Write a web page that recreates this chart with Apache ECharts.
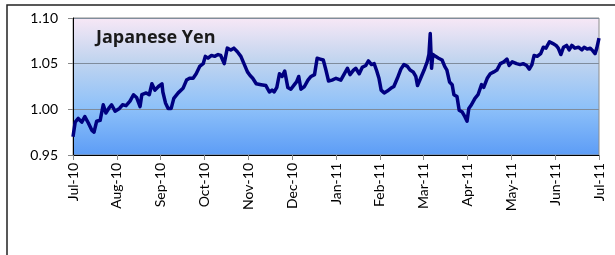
<!DOCTYPE html>
<html>
<head>
<meta charset="utf-8">
<script src="https://cdn.jsdelivr.net/npm/echarts@6/dist/echarts.min.js"></script>
<style>
  html, body { margin: 0; padding: 0; background: #fff; }
  #chart { width: 615px; height: 255px; }
</style>
</head>
<body>
<div id="chart"></div>
<script>
// month tick labels (one per month, Jul-10 .. Jul-11)
const months = ['Jul-10', 'Aug-10', 'Sep-10', 'Oct-10', 'Nov-10', 'Dec-10', 'Jan-11',
  'Feb-11', 'Mar-11', 'Apr-11', 'May-11', 'Jun-11', 'Jul-11'];

// position in months since Jul-10
const t = [0.00, 0.05, 0.12, 0.20, 0.27, 0.35, 0.43, 0.48, 0.54, 0.62, 0.69, 0.75, 0.83, 0.88, 0.96,
  1.06, 1.13, 1.21, 1.30, 1.38, 1.45, 1.53, 1.57, 1.67, 1.74, 1.80, 1.87, 1.95, 2.03, 2.05,
  2.11, 2.17, 2.24, 2.30, 2.40, 2.51, 2.59, 2.66, 2.74, 2.81, 2.89, 2.97, 3.02, 3.08, 3.16,
  3.23, 3.31, 3.37, 3.45, 3.52, 3.60, 3.67, 3.75, 3.83, 3.90, 3.98, 4.04, 4.10, 4.18, 4.29,
  4.40, 4.48, 4.54, 4.59, 4.65, 4.71, 4.77, 4.83, 4.90, 4.97, 5.05, 5.10, 5.15, 5.20, 5.28,
  5.36, 5.43, 5.51, 5.57, 5.64, 5.71, 5.77, 5.83, 5.91, 6.00, 6.03, 6.11, 6.18, 6.26, 6.32,
  6.40, 6.45, 6.53, 6.60, 6.68, 6.74, 6.81, 6.87, 6.93, 6.98, 7.03, 7.10, 7.17, 7.25, 7.32,
  7.40, 7.48, 7.55, 7.63, 7.69, 7.76, 7.82, 7.86, 7.93, 8.01, 8.05, 8.08, 8.12, 8.15, 8.18,
  8.21, 8.27, 8.34, 8.42, 8.48, 8.53, 8.59, 8.65, 8.69, 8.76, 8.81, 8.88, 8.94, 8.99, 9.03,
  9.09, 9.17, 9.24, 9.32, 9.37, 9.45, 9.52, 9.60, 9.67, 9.75, 9.83, 9.90, 9.95, 10.02, 10.05,
  10.12, 10.20, 10.27, 10.35, 10.41, 10.47, 10.52, 10.59, 10.67, 10.73, 10.79, 10.87, 10.95, 11.02, 11.07,
  11.13, 11.19, 11.26, 11.32, 11.38, 11.45, 11.53, 11.61, 11.66, 11.73, 11.80, 11.86, 11.91, 11.95, 11.98,
  12.00];

// exchange rate values at those positions
const rate = [0.970, 0.986, 0.990, 0.986, 0.992, 0.985, 0.977, 0.975, 0.987, 0.988, 1.005, 0.996, 1.002, 1.005, 0.998,
  1.001, 1.005, 1.004, 1.009, 1.016, 1.013, 1.003, 1.016, 1.018, 1.016, 1.028, 1.021, 1.025, 1.028, 1.019,
  1.007, 1.001, 1.001, 1.012, 1.018, 1.023, 1.032, 1.034, 1.034, 1.039, 1.047, 1.050, 1.058, 1.056, 1.059,
  1.058, 1.060, 1.059, 1.050, 1.067, 1.065, 1.067, 1.063, 1.058, 1.050, 1.041, 1.037, 1.034, 1.028, 1.027,
  1.026, 1.019, 1.021, 1.019, 1.024, 1.039, 1.036, 1.042, 1.024, 1.022, 1.027, 1.030, 1.036, 1.022, 1.025,
  1.032, 1.036, 1.038, 1.056, 1.055, 1.054, 1.043, 1.031, 1.032, 1.034, 1.036, 1.032, 1.038, 1.045, 1.038,
  1.043, 1.045, 1.039, 1.046, 1.048, 1.053, 1.049, 1.050, 1.042, 1.034, 1.021, 1.018, 1.020, 1.023, 1.025,
  1.034, 1.044, 1.049, 1.047, 1.043, 1.041, 1.036, 1.026, 1.034, 1.043, 1.048, 1.052, 1.060, 1.083, 1.045,
  1.060, 1.058, 1.056, 1.054, 1.047, 1.043, 1.030, 1.027, 1.016, 1.014, 0.999, 0.997, 0.992, 0.987, 1.001,
  1.005, 1.012, 1.016, 1.027, 1.024, 1.034, 1.039, 1.041, 1.043, 1.050, 1.052, 1.055, 1.048, 1.052, 1.052,
  1.050, 1.049, 1.050, 1.048, 1.044, 1.049, 1.059, 1.058, 1.061, 1.068, 1.067, 1.074, 1.072, 1.070, 1.067,
  1.060, 1.068, 1.070, 1.065, 1.070, 1.067, 1.068, 1.065, 1.068, 1.066, 1.067, 1.064, 1.061, 1.067, 1.068,
  1.078];

const yTicks = [0.95, 1.00, 1.05, 1.10];

let chart = echarts.init(document.getElementById('chart'), null, { renderer: 'canvas' });

let option = {
  animation: false,
  backgroundColor: '#fff',
  textStyle: { fontFamily: 'Lato, "Open Sans", sans-serif' },
  graphic: [{
    type: 'rect',
    shape: { x: 7, y: 5, width: 620, height: 260 },
    style: { fill: 'none', stroke: '#222', lineWidth: 1.5 },
    silent: true
  }, {
    type: 'text',
    left: 96,
    top: 29,
    style: {
      text: 'Japanese Yen',
      font: 'bold 18px "Open Sans", sans-serif',
      fill: '#1a1a1a'
    },
    z: 10
  }],
  grid: {
    left: 73,
    right: 16,
    top: 18,
    bottom: 100,
    show: true,
    borderColor: '#8c8c8c',
    borderWidth: 1,
    backgroundColor: new echarts.graphic.LinearGradient(0, 0, 0, 1, [
      { offset: 0, color: '#f8e8f6' },
      { offset: 0.3, color: '#c3d5ef' },
      { offset: 0.65, color: '#8ec1f9' },
      { offset: 1, color: '#5c9cf6' }
    ])
  },
  xAxis: {
    type: 'value',
    min: 0,
    max: months.length - 1,
    interval: 1,
    axisLine: { show: true, onZero: false, lineStyle: { color: '#000', width: 1 } },
    axisTick: { show: true, length: 5, lineStyle: { color: '#888' } },
    splitLine: { show: false },
    axisLabel: {
      rotate: 90,
      margin: 8,
      fontSize: 14,
      color: '#000',
      fontFamily: 'Lato, sans-serif',
      formatter: v => months[v] || ''
    }
  },
  yAxis: {
    type: 'value',
    min: yTicks[0],
    max: yTicks[yTicks.length - 1],
    interval: 0.05,
    axisLine: { show: true, lineStyle: { color: '#000', width: 1 } },
    axisTick: { show: true, length: 5, lineStyle: { color: '#888' } },
    splitLine: { show: true, lineStyle: { color: '#7f8c9c', width: 1 } },
    axisLabel: {
      margin: 15,
      fontSize: 14,
      color: '#000',
      fontFamily: 'Lato, sans-serif',
      formatter: v => v.toFixed(2)
    }
  },
  series: [{
    type: 'line',
    data: t.map((x, i) => [x, rate[i]]),
    showSymbol: false,
    symbol: 'none',
    lineStyle: { color: '#000080', width: 3.5, join: 'round' },
    clip: true
  }]
};

chart.setOption(option);
</script>
</body>
</html>
